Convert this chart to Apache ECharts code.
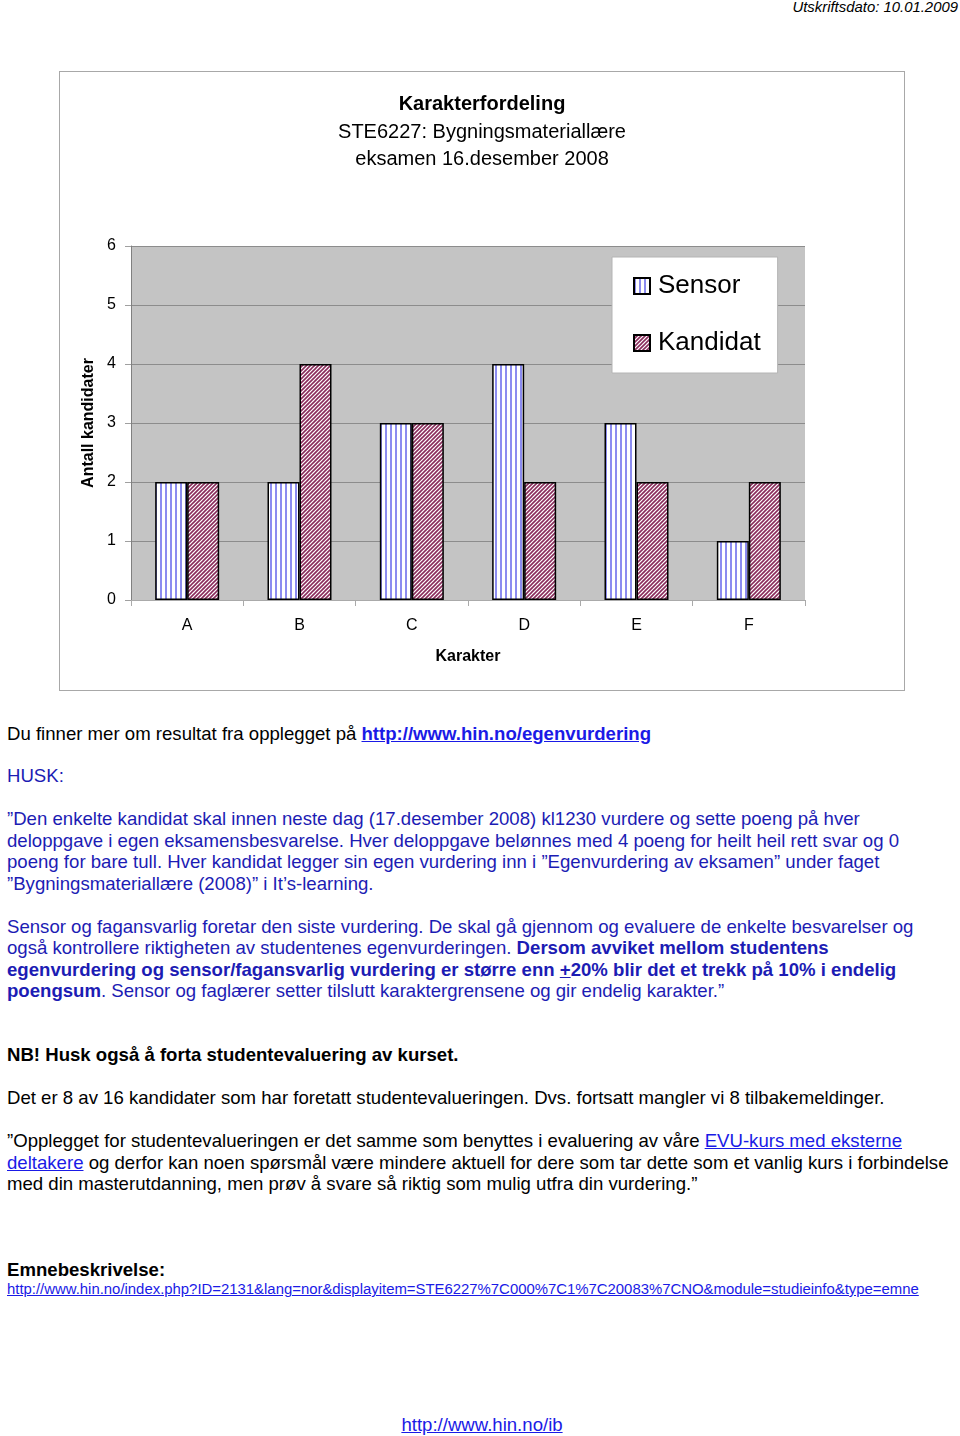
<!DOCTYPE html>
<html>
<head>
<meta charset="utf-8">
<script src="https://cdn.jsdelivr.net/npm/echarts@6/dist/echarts.min.js"></script>
<style>
  body { margin: 0; width: 960px; height: 1436px; position: relative; background: #fff;
         font-family: "Liberation Sans", Arial, sans-serif; color: #000; }
  .ln { position: absolute; left: 7px; white-space: nowrap; font-size: 18.6px; line-height: 22px; }
  .blue { color: #1c1cb4; }
  .lnk { color: #1a1ae6; text-decoration: underline; }
  #box { position: absolute; left: 59px; top: 71px; width: 844px; height: 618px; border: 1px solid #a8a8a8; }
  #chart { width: 844px; height: 618px; }
</style>
</head>
<body>
<div class="ln" style="left:auto; right:2px; top:-4px; font-size:14.9px; font-style:italic;">Utskriftsdato: 10.01.2009</div>

<div id="box"><div id="chart"></div></div>

<div class="ln" style="top:723px;">Du finner mer om resultat fra opplegget på <b class="lnk">http://www.hin.no/egenvurdering</b></div>
<div class="ln blue" style="top:765px;">HUSK:</div>
<div class="ln blue" style="top:808px;">”Den enkelte kandidat skal innen neste dag (17.desember 2008) kl1230 vurdere og sette poeng på hver</div>
<div class="ln blue" style="top:830px;">deloppgave i egen eksamensbesvarelse. Hver deloppgave belønnes med 4 poeng for heilt heil rett svar og 0</div>
<div class="ln blue" style="top:851px;">poeng for bare tull. Hver kandidat legger sin egen vurdering inn i ”Egenvurdering av eksamen” under faget</div>
<div class="ln blue" style="top:873px;">”Bygningsmateriallære (2008)” i It’s-learning.</div>
<div class="ln blue" style="top:916px;">Sensor og fagansvarlig foretar den siste vurdering. De skal gå gjennom og evaluere de enkelte besvarelser og</div>
<div class="ln blue" style="top:937px;">også kontrollere riktigheten av studentenes egenvurderingen. <b>Dersom avviket mellom studentens</b></div>
<div class="ln blue" style="top:959px;"><b>egenvurdering og sensor/fagansvarlig vurdering er større enn <u>+</u>20% blir det et trekk på 10% i endelig</b></div>
<div class="ln blue" style="top:980px;"><b>poengsum</b>. Sensor og faglærer setter tilslutt karaktergrensene og gir endelig karakter.”</div>
<div class="ln" style="top:1044px;"><b>NB! Husk også å forta studentevaluering av kurset.</b></div>
<div class="ln" style="top:1087px;">Det er 8 av 16 kandidater som har foretatt studentevalueringen. Dvs. fortsatt mangler vi 8 tilbakemeldinger.</div>
<div class="ln" style="top:1130px;">”Opplegget for studentevalueringen er det samme som benyttes i evaluering av våre <span class="lnk">EVU-kurs med eksterne</span></div>
<div class="ln" style="top:1152px;"><span class="lnk">deltakere</span> og derfor kan noen spørsmål være mindere aktuell for dere som tar dette som et vanlig kurs i forbindelse</div>
<div class="ln" style="top:1173px;">med din masterutdanning, men prøv å svare så riktig som mulig utfra din vurdering.”</div>
<div class="ln" style="top:1259px;"><b>Emnebeskrivelse:</b></div>
<div class="ln lnk" style="top:1280px; font-size:14.9px; line-height:18px;">http://www.hin.no/index.php?ID=2131&amp;lang=nor&amp;displayitem=STE6227%7C000%7C1%7C20083%7CNO&amp;module=studieinfo&amp;type=emne</div>
<div class="ln lnk" style="left:0; width:964px; text-align:center; top:1414px;">http://www.hin.no/ib</div>

<script>
var categories = ['A', 'B', 'C', 'D', 'E', 'F'];
var sensorData = [2, 2, 3, 4, 3, 1];
var kandidatData = [2, 4, 3, 2, 2, 2];
var yTicks = [0, 1, 2, 3, 4, 5, 6];

// vertical stripes for Sensor
function makeStripes() {
    var c = document.createElement('canvas');
    c.width = 5; c.height = 5;
    var ctx = c.getContext('2d');
    ctx.fillStyle = '#ffffff';
    ctx.fillRect(0, 0, 5, 5);
    ctx.fillStyle = '#8c8cf0';
    ctx.fillRect(0, 0, 2, 5);
    return c;
}
// diagonal stripes for Kandidat
function makeDiagonal() {
    var c = document.createElement('canvas');
    c.width = 8; c.height = 8;
    var ctx = c.getContext('2d');
    ctx.fillStyle = '#ffffff';
    ctx.fillRect(0, 0, 8, 8);
    ctx.strokeStyle = '#8a2c5c';
    ctx.lineWidth = 1.6;
    for (var k = -4; k <= 20; k += 4) {
        ctx.beginPath();
        ctx.moveTo(k + 2, -2);
        ctx.lineTo(k - 10, 10);
        ctx.stroke();
    }
    return c;
}

var font = '"Liberation Sans", Arial, sans-serif';
var myChart = echarts.init(document.getElementById('chart'));
var option = {
    animation: false,
    textStyle: { fontFamily: font },
    title: {
        left: 'center',
        top: 14,
        text: '{b|Karakterfordeling}\n{n|STE6227: Bygningsmateriallære}\n{n|eksamen 16.desember 2008}',
        textStyle: {
            fontWeight: 'normal',
            rich: {
                b: { fontSize: 20, fontWeight: 'bold', color: '#000', lineHeight: 27.5, fontFamily: font },
                n: { fontSize: 20, fontWeight: 'normal', color: '#000', lineHeight: 27.5, fontFamily: font }
            }
        }
    },
    legend: {
        orient: 'vertical',
        left: 552,
        top: 185,
        padding: [16, 17, 17, 21],
        itemGap: 31,
        itemWidth: 16,
        itemHeight: 16,
        icon: 'rect',
        backgroundColor: '#ffffff',
        borderColor: '#b4b4b4',
        borderWidth: 1,
        textStyle: { fontSize: 26, color: '#000', fontFamily: font, padding: [0, 0, 0, 3] },
        data: ['Sensor', 'Kandidat']
    },
    grid: {
        left: 71,
        top: 174,
        width: 674,
        height: 354,
        show: true,
        backgroundColor: '#c4c4c4',
        borderWidth: 0
    },
    xAxis: {
        type: 'category',
        data: categories,
        name: 'Karakter',
        nameLocation: 'middle',
        nameGap: 49,
        nameTextStyle: { fontSize: 16, fontWeight: 'bold', color: '#000' },
        axisLine: { lineStyle: { color: '#aaaaaa', width: 1 } },
        axisTick: { show: true, length: 6, lineStyle: { color: '#aaaaaa' } },
        axisLabel: { fontSize: 16, color: '#000', margin: 18 }
    },
    yAxis: {
        type: 'value',
        min: yTicks[0],
        max: yTicks[yTicks.length - 1],
        interval: 1,
        name: 'Antall kandidater',
        nameLocation: 'middle',
        nameGap: 33,
        nameTextStyle: { fontSize: 16, fontWeight: 'bold', color: '#000' },
        axisLine: { show: true, lineStyle: { color: '#808080', width: 1 } },
        axisTick: { show: true, length: 6, lineStyle: { color: '#a0a0a0' } },
        axisLabel: { fontSize: 16, color: '#000', margin: 15 },
        splitLine: { show: true, lineStyle: { color: '#8c8c8c', width: 1 } }
    },
    series: [
        {
            name: 'Sensor',
            type: 'bar',
            data: sensorData,
            barWidth: 32,
            barGap: '0%',
            itemStyle: {
                color: { image: makeStripes(), repeat: 'repeat' },
                borderColor: '#000',
                borderWidth: 1.5
            }
        },
        {
            name: 'Kandidat',
            type: 'bar',
            data: kandidatData,
            barWidth: 32,
            barGap: '0%',
            itemStyle: {
                color: { image: makeDiagonal(), repeat: 'repeat' },
                borderColor: '#000',
                borderWidth: 1.5
            }
        }
    ]
};
if (option && typeof option === "object") {
    myChart.setOption(option, true);
}
</script>
</body>
</html>
